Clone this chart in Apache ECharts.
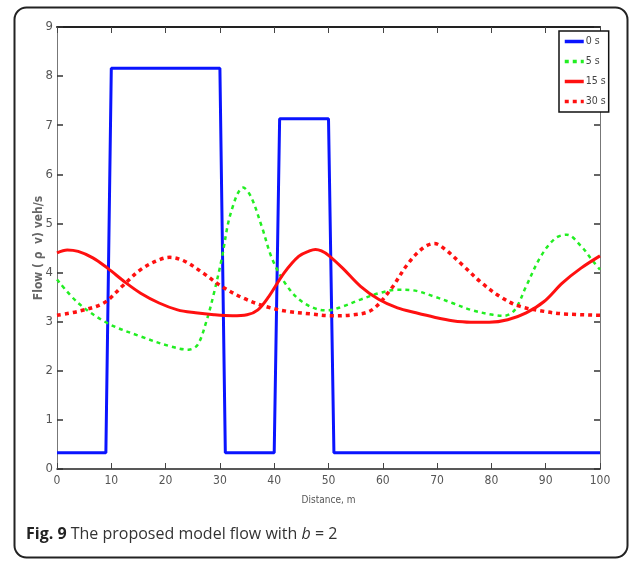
<!DOCTYPE html>
<html>
<head>
<meta charset="utf-8">
<script src="https://cdn.jsdelivr.net/npm/echarts@6/dist/echarts.min.js"></script>
<style>
html,body{margin:0;padding:0;background:#fff;}
#c{width:637px;height:564px;}
</style>
</head>
<body>
<div id="c"></div>
<script>
// ---- data ----
const seriesNames = ["0 s", "5 s", "15 s", "30 s"];
const xTicks = [0,10,20,30,40,50,60,70,80,90,100];
const yTicks = [0,1,2,3,4,5,6,7,8,9];

const x0 = [0, 9, 10, 30, 31, 40, 41, 50, 51, 100];
const y0 = [0.33, 0.33, 8.16, 8.16, 0.33, 0.33, 7.13, 7.13, 0.33, 0.33];

const x5 = [0, 3.9, 9.3, 15.4, 20.8, 24.2, 25.9, 27.6, 28.9, 30.3, 32, 34.3, 35.7, 37.7, 39.7, 42.4, 45.1, 48.5, 49.9, 52.6, 55.9, 59.3, 62.7, 65.4, 69.5, 72.8, 76.2, 80.3, 82.3, 84.3, 86.4, 89.1, 91.8, 93.9, 96.5, 98.5, 100];
const y5 = [3.86, 3.38, 2.97, 2.70, 2.50, 2.43, 2.53, 3.04, 3.58, 4.26, 5.21, 5.73, 5.55, 4.94, 4.26, 3.72, 3.41, 3.24, 3.23, 3.31, 3.45, 3.58, 3.65, 3.64, 3.51, 3.38, 3.24, 3.14, 3.12, 3.24, 3.72, 4.33, 4.70, 4.77, 4.54, 4.26, 4.06];

const x15 = [0, 1.9, 3.9, 6.6, 9.3, 12.7, 15.4, 18.8, 22.2, 25.5, 28.9, 32.3, 35, 37, 39, 41.8, 44.5, 46.5, 47.6, 48.7, 50, 52.6, 55.9, 59.3, 62.7, 66.1, 69.5, 72.8, 76.2, 79.6, 83, 86.4, 89.7, 93.1, 96.5, 100];
const y15 = [4.40, 4.46, 4.43, 4.30, 4.09, 3.79, 3.58, 3.38, 3.24, 3.18, 3.14, 3.12, 3.14, 3.24, 3.51, 3.99, 4.33, 4.44, 4.47, 4.44, 4.35, 4.09, 3.72, 3.45, 3.28, 3.18, 3.09, 3.02, 2.99, 2.99, 3.04, 3.18, 3.41, 3.79, 4.09, 4.34];

const x30 = [0, 3.9, 8.6, 12, 15.4, 18.8, 20.8, 23.5, 26.9, 30.3, 34.3, 38.4, 42.4, 46.5, 50.5, 54.6, 58, 61.4, 64.7, 67.4, 69.5, 71.5, 74.9, 78.2, 81.6, 85, 89.7, 93.1, 100];
const y30 = [3.13, 3.21, 3.38, 3.72, 4.06, 4.26, 4.31, 4.23, 3.99, 3.72, 3.48, 3.31, 3.21, 3.16, 3.12, 3.14, 3.24, 3.65, 4.19, 4.50, 4.59, 4.47, 4.13, 3.79, 3.51, 3.32, 3.21, 3.16, 3.13];

function pairs(xs, ys){ return xs.map((x,i)=>[x, ys[i]]); }

const chart = echarts.init(document.getElementById('c'), null, {renderer:'canvas'});
const axFont = '"Liberation Sans Narrow","DejaVu Sans Condensed","Liberation Sans",sans-serif';

const option = {
  backgroundColor: '#fff',
  animation: false,
  grid: {left: 57, top: 27, right: 37, bottom: 95},
  legend: {
    data: seriesNames,
    orient: 'vertical',
    left: 559, top: 31,
    itemWidth: 19, itemHeight: 6, itemGap: 9,
    padding: [5, 3, 5, 4],
    borderColor: '#111', borderWidth: 1.5,
    backgroundColor: '#fff',
    itemStyle: {opacity: 0},
    lineStyle: {width: 3.5},
    textStyle: {fontFamily: axFont, fontSize: 10.5, color: '#444', padding: [0,0,0,-3]}
  },
  xAxis: [{
    type: 'value', min: 0, max: 100, interval: 10, position: 'bottom',
    name: 'Distance, m', nameLocation: 'middle', nameGap: 26, nameMoveOverlap: false,
    nameTextStyle: {fontFamily: axFont, fontSize: 10, color: '#555'},
    axisLine: {onZero: false, lineStyle: {color: '#222', width: 1.5}},
    axisTick: {inside: true, length: 6, lineStyle: {color: '#444'}},
    axisLabel: {fontFamily: axFont, fontSize: 12, color: '#555', margin: 6,
      formatter: v => xTicks.includes(v) ? String(v) : ''},
    splitLine: {show: false}
  },{
    type: 'value', min: 0, max: 100, interval: 10, position: 'top',
    axisLine: {onZero: false, lineStyle: {color: '#222', width: 2}},
    axisTick: {inside: true, length: 6, lineStyle: {color: '#444'}},
    axisLabel: {show: false}, splitLine: {show: false}
  }],
  yAxis: [{
    type: 'value', min: 0, max: 9, interval: 1, position: 'left',
    name: 'Flow ( ρ  v) veh/s', nameLocation: 'middle', nameGap: 12, nameMoveOverlap: false,
    nameTextStyle: {fontFamily: axFont, fontSize: 12, fontWeight: 'bold', color: '#666'},
    axisLine: {onZero: false, lineStyle: {color: '#777', width: 1}},
    axisTick: {inside: true, length: 6, lineStyle: {color: '#333', width: 1.5}},
    axisLabel: {fontFamily: axFont, fontSize: 13, color: '#555', margin: 4,
      formatter: v => yTicks.includes(v) ? String(v) : ''},
    splitLine: {show: false}
  },{
    type: 'value', min: 0, max: 9, interval: 1, position: 'right',
    axisLine: {onZero: false, lineStyle: {color: '#777', width: 1}},
    axisTick: {inside: true, length: 6, lineStyle: {color: '#333', width: 1.5}},
    axisLabel: {show: false}, splitLine: {show: false}
  }],
  series: [
    {name: seriesNames[0], type: 'line', data: pairs(x0, y0), symbol: 'none',
     color: '#0a14ff', lineStyle: {color: '#0a14ff', width: 3}},
    {name: seriesNames[1], type: 'line', data: pairs(x5, y5), symbol: 'none', smooth: 0.35,
     color: '#22ee22', lineStyle: {color: '#22ee22', width: 2.5, type: [4, 4]}},
    {name: seriesNames[2], type: 'line', data: pairs(x15, y15), symbol: 'none', smooth: 0.35,
     color: '#ff1010', lineStyle: {color: '#ff1010', width: 3}},
    {name: seriesNames[3], type: 'line', data: pairs(x30, y30), symbol: 'none', smooth: 0.35,
     color: '#ff1010', lineStyle: {color: '#ff1010', width: 3.5, type: [4, 4]}}
  ],
  graphic: [
    {type: 'rect', left: 12, top: 5, silent: true,
     shape: {width: 613, height: 550, r: 12},
     style: {fill: 'none', stroke: '#222', lineWidth: 2}},
    {type: 'text', left: 26, top: 526, silent: true,
     style: {
       text: '{b|Fig. 9} The proposed model flow with {i|b} = 2',
       font: '16px "Open Sans", sans-serif', fill: '#333',
       rich: {
         b: {fontFamily: '"Open Sans", sans-serif', fontSize: 16, fontWeight: 'bold', fill: '#222'},
         i: {fontFamily: '"Open Sans", sans-serif', fontSize: 16, fontStyle: 'italic', fill: '#333'}
       }
     }}
  ]
};
chart.setOption(option);
</script>
</body>
</html>
